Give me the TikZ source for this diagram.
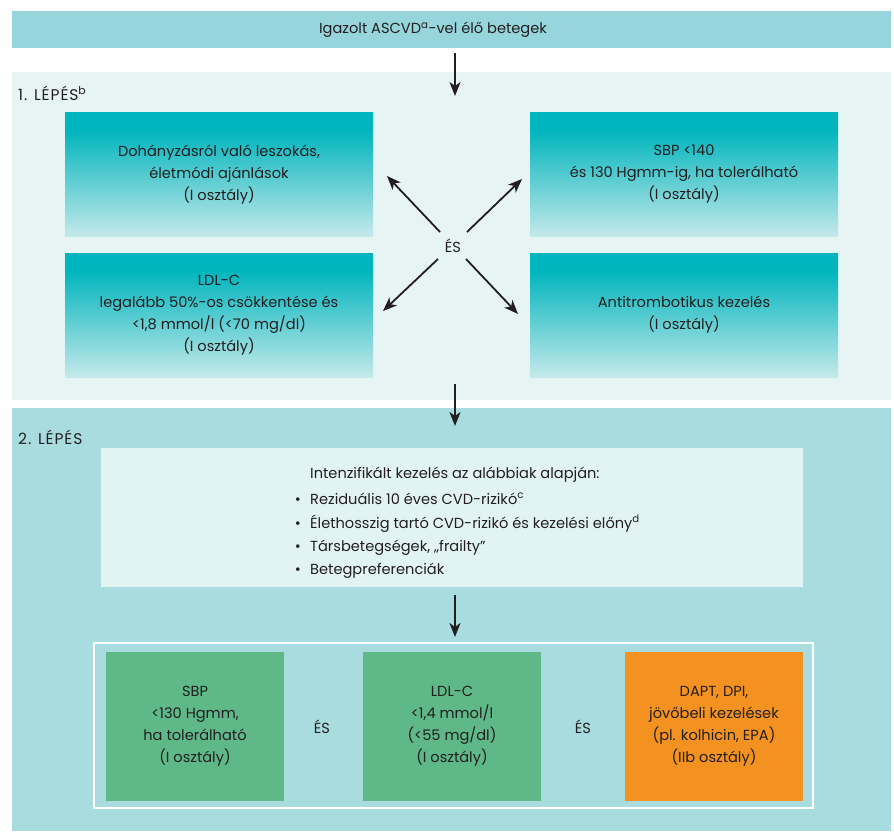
\documentclass[tikz,border=0pt]{standalone}
\usepackage{fontspec}
\setmainfont{Poppins}
\usetikzlibrary{arrows.meta}

\definecolor{cInk}{HTML}{231F20}
\definecolor{cTop}{HTML}{95D5DB}
\definecolor{cStepA}{HTML}{E6F4F4}
\definecolor{cStepB}{HTML}{A9DCDF}
\definecolor{cInner}{HTML}{E1F3F3}
\definecolor{cTeal}{HTML}{00B5BD}
\definecolor{cFade}{HTML}{C5E9EA}
\definecolor{cGreen}{HTML}{5EB887}
\definecolor{cOrange}{HTML}{F39121}

% teal at the top fading to a pale tint at the bottom
\pgfdeclareverticalshading{tealfade}{100bp}{color(0bp)=(cFade); color(25bp)=(cFade); color(68bp)=(cTeal); color(100bp)=(cTeal)}

\begin{document}
\begin{tikzpicture}[x=1pt,y=-1pt,
  every node/.style={inner sep=0pt, text=cInk},
  font=\fontsize{14.6}{22}\selectfont,
  panel/.style={minimum width=879pt},
  fadebox/.style={shading=tealfade, minimum width=308pt, minimum height=124pt, align=center},
  goalbox/.style={minimum width=178pt, minimum height=149pt, align=center},
  flow/.style={draw=cInk, line width=1.8pt, -{Stealth[length=14pt,width=11pt,inset=4pt]}},
  steplabel/.style={anchor=west, font=\fontsize{15.5}{16}\selectfont\addfontfeature{LetterSpace=6}},
  item/.style={anchor=base west},
  dot/.style={anchor=base},
]
\useasboundingbox (0,0) rectangle (894,831);

% header band
\node[panel, fill=cTop, minimum height=37pt] (head) at (451.5,29.5) {};
\node (headtxt) at (433,30) {Igazolt ASCVD\textsuperscript{a}-vel élő betegek};

% step 1
\node[panel, fill=cStepA, minimum height=328pt] (stepA) at (451.5,236) {};
\node[steplabel] (stepAlbl) at (18,93) {1. LÉPÉS\textsuperscript{b}};

\node[fadebox] (smoke) at (219,174.5) {Dohányzásról való leszokás,\\ életmódi ajánlások\\ (I osztály)};
\node[fadebox] (sbp) at (684,174.5) {SBP <140\\ és 130 Hgmm-ig, ha tolerálható\\ (I osztály)};
\node[fadebox] (ldl) at (219,315) {LDL-C\\ legalább 50\%-os csökkentése és\\ <1,8 mmol/l (<70 mg/dl)\\ (I osztály)};
\node[fadebox] (anti) at (684,315) {Antitrombotikus kezelés\\ (I osztály)};

\node (and) at (453,246) {ÉS};
\coordinate (nwS) at (440,232); \coordinate (nwE) at (387,176);
\coordinate (neS) at (467,232); \coordinate (neE) at (522,179);
\coordinate (swS) at (438,259); \coordinate (swE) at (383,311);
\coordinate (seS) at (466,259); \coordinate (seE) at (518,314);
\draw[flow] (nwS) -- (nwE);
\draw[flow] (neS) -- (neE);
\draw[flow] (swS) -- (swE);
\draw[flow] (seS) -- (seE);

% step 2
\node[panel, fill=cStepB, minimum height=423pt] (stepB) at (451.5,619.5) {};
\node[steplabel] (stepBlbl) at (18,437) {2. LÉPÉS};

\node[fill=cInner, minimum width=702pt, minimum height=139pt] (intens) at (452,517.5) {};
\node[item] (t0) at (310,478) {Intenzifikált kezelés az alábbiak alapján:};
\node[item] (t1) at (310,504) {Reziduális 10 éves CVD-rizikó\textsuperscript{c}};
\node[item] (t2) at (310,528) {Élethosszig tartó CVD-rizikó és kezelési előny\textsuperscript{d}};
\node[item] (t3) at (310,551) {Társbetegségek, „frailty”};
\node[item] (t4) at (310,574) {Betegpreferenciák};
\foreach \i/\y in {1/504,2/528,3/551,4/574}
  \node[dot] (b\i) at (298,\y) {•};

% targets
\node[draw=white, line width=1.5pt, minimum width=719pt, minimum height=165pt] (frame) at (453.5,725.5) {};
\node[goalbox, fill=cGreen] (g1) at (195,726.5) {SBP\\ <130 Hgmm,\\ ha tolerálható\\ (I osztály)};
\node[goalbox, fill=cGreen] (g2) at (452,726.5) {LDL-C\\ <1,4 mmol/l\\ (<55 mg/dl)\\ (I osztály)};
\node[goalbox, fill=cOrange] (g3) at (714,726.5) {DAPT, DPI,\\ jövőbeli kezelések\\ (pl. kolhicin, EPA)\\ (IIb osztály)};
\node (and1) at (322,727) {ÉS};
\node (and2) at (583,727) {ÉS};

% vertical flow
\coordinate (a1s) at (455,53);  \coordinate (a1e) at (455,96);
\coordinate (a2s) at (455,384); \coordinate (a2e) at (455,426);
\coordinate (a3s) at (455,595); \coordinate (a3e) at (455,637);
\draw[flow] (a1s) -- (a1e);
\draw[flow] (a2s) -- (a2e);
\draw[flow] (a3s) -- (a3e);
\end{tikzpicture}
\end{document}
